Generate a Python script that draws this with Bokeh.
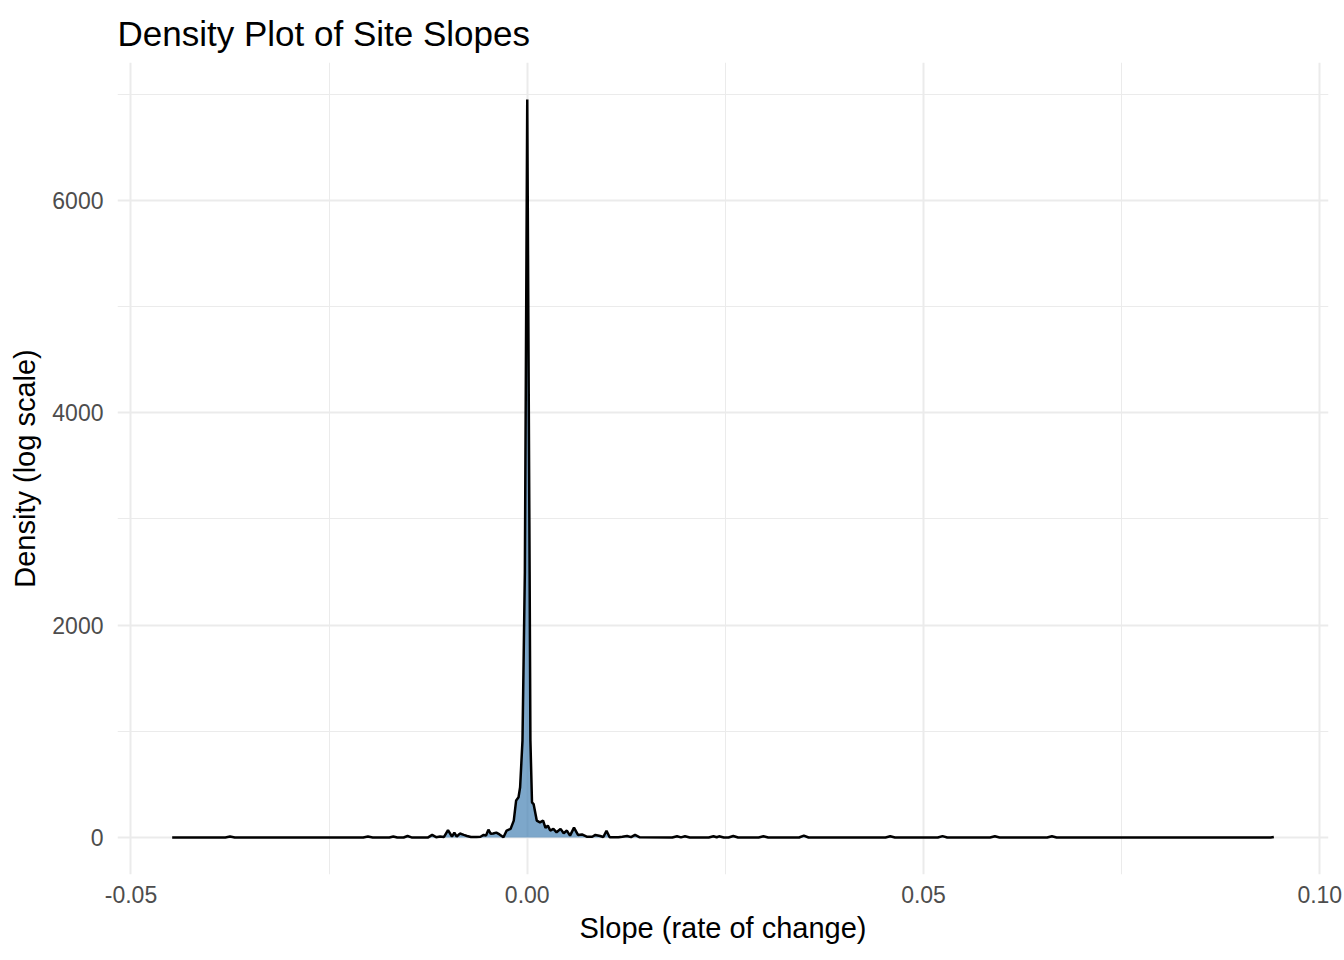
from bokeh.plotting import figure
from bokeh.models import FixedTicker, Range1d, ColumnDataSource
from bokeh.embed import file_html
from bokeh.resources import INLINE

# ---- data (slope value, estimated density) ----
slope_x = [
    -0.0448, -0.0381, -0.0375, -0.0369, -0.0207, -0.0201, -0.0195,
    -0.0174, -0.0169, -0.0164, -0.0156, -0.0151, -0.0146, -0.0125,
    -0.0120, -0.0115, -0.0110, -0.0105, -0.0100, -0.0095, -0.0092,
    -0.0089, -0.0085, -0.0080, -0.0076, -0.0071, -0.0064, -0.0059,
    -0.0055, -0.0052, -0.0049, -0.0046, -0.0043, -0.0039, -0.0035,
    -0.0030, -0.0026, -0.0021, -0.0017, -0.0014, -0.0011, -0.0009,
    -0.0006, -0.0003, 0.0000, 0.0003, 0.0004, 0.0006, 0.0008,
    0.0012, 0.0016, 0.0020, 0.0023, 0.0026, 0.0029, 0.0033,
    0.0037, 0.0042, 0.0046, 0.0050, 0.0054, 0.0059, 0.0064,
    0.0069, 0.0075, 0.0082, 0.0086, 0.0092, 0.0096, 0.0100,
    0.0104, 0.0115, 0.0120, 0.0126, 0.0131, 0.0136, 0.0142,
    0.0183, 0.0189, 0.0194, 0.0199, 0.0205, 0.0229, 0.0235,
    0.0239, 0.0242, 0.0248, 0.0254, 0.0260, 0.0266, 0.0292,
    0.0298, 0.0304, 0.0343, 0.0349, 0.0355, 0.0452, 0.0458,
    0.0464, 0.0518, 0.0524, 0.0530, 0.0584, 0.0590, 0.0596,
    0.0656, 0.0662, 0.0668, 0.0938, 0.0942,
]
density_y = [
    1, 1, 10, 1, 1, 10, 1,
    1, 10, 1, 1, 15, 2, 2,
    25, 4, 10, 6, 70, 10, 47,
    10, 38, 25, 15, 5, 5, 8,
    25, 20, 75, 35, 38, 47, 30,
    3, 66, 82, 160, 350, 380, 474,
    913, 2500, 6950, 2500, 913, 332, 316,
    160, 144, 160, 91, 113, 66, 82,
    50, 82, 41, 66, 19, 94, 25,
    30, 8, 8, 25, 15, 5, 65,
    3, 3, 8, 15, 4, 25, 3,
    1, 12, 2, 12, 1, 1, 12,
    3, 12, 1, 1, 15, 1, 1,
    12, 1, 1, 18, 1, 1, 12,
    1, 1, 14, 1, 1, 12, 1,
    1, 12, 1, 1, 6,
]

x_ticks = [-0.05, 0.0, 0.05, 0.10]
x_tick_labels = ["-0.05", "0.00", "0.05", "0.10"]
x_minor = [-0.025, 0.025, 0.075]
y_ticks = [0, 2000, 4000, 6000]
y_tick_labels = ["0", "2000", "4000", "6000"]
y_minor = [1000, 3000, 5000, 7000]

title_text = "Density Plot of Site Slopes"
x_label = "Slope (rate of change)"
y_label = "Density (log scale)"

FONT = "Liberation Sans"

src = ColumnDataSource(dict(x=slope_x, y=density_y))

p = figure(
    width=1344, height=960, output_backend="svg", toolbar_location=None,
    x_range=Range1d(-0.0517, 0.1011), y_range=Range1d(-347.5, 7297.5),
    min_border_left=117, min_border_right=16, min_border_top=62, min_border_bottom=86,
    title=title_text,
)
p.outline_line_color = None
p.background_fill_color = "white"
p.border_fill_color = "white"

p.title.text_font = FONT
p.title.text_font_size = "35px"
p.title.text_font_style = "normal"
p.title.text_color = "black"
p.title.align = "left"
p.title.vertical_align = "top"
p.title.text_line_height = 0.8
p.title.standoff = 16

p.varea(x="x", y1=0, y2="y", source=src, fill_color="steelblue", fill_alpha=0.7)
p.line(x="x", y="y", source=src, line_color="black", line_width=2.5)

p.xaxis.ticker = FixedTicker(ticks=x_ticks, minor_ticks=x_minor)
p.yaxis.ticker = FixedTicker(ticks=y_ticks, minor_ticks=y_minor)
p.xaxis.major_label_overrides = {t: l for t, l in zip(x_ticks, x_tick_labels)}
p.yaxis.major_label_overrides = {t: l for t, l in zip(y_ticks, y_tick_labels)}

for ax in (p.xaxis, p.yaxis):
    ax.axis_line_color = None
    ax.major_tick_line_color = None
    ax.minor_tick_line_color = None
    ax.major_tick_out = 0
    ax.major_tick_in = 0
    ax.minor_tick_out = 0
    ax.minor_tick_in = 0
    ax.major_label_text_font = FONT
    ax.major_label_text_font_size = "23px"
    ax.major_label_text_color = "#4d4d4d"
    ax.axis_label_text_font = FONT
    ax.axis_label_text_font_size = "29px"
    ax.axis_label_text_font_style = "normal"
    ax.axis_label_text_color = "black"

p.xaxis.axis_label = x_label
p.yaxis.axis_label = y_label
p.xaxis.major_label_standoff = 11
p.yaxis.major_label_standoff = 14
p.xaxis.axis_label_standoff = 6
p.yaxis.axis_label_standoff = 8

p.xgrid.grid_line_color = "#ebebeb"
p.ygrid.grid_line_color = "#ebebeb"
p.xgrid.grid_line_width = 2
p.ygrid.grid_line_width = 2
p.xgrid.minor_grid_line_color = "#ebebeb"
p.ygrid.minor_grid_line_color = "#ebebeb"
p.xgrid.minor_grid_line_width = 1
p.ygrid.minor_grid_line_width = 1

open("out.html", "w").write(file_html(p, INLINE))
